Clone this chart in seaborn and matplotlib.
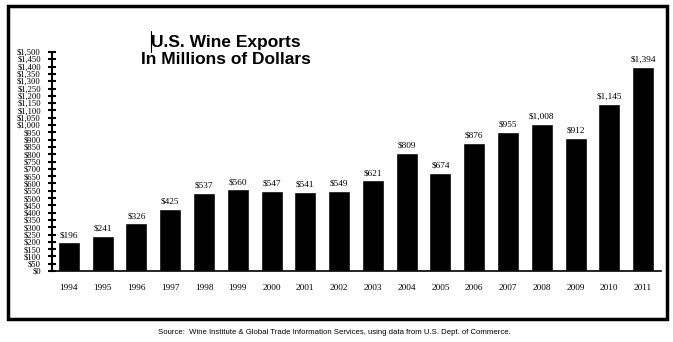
import matplotlib
matplotlib.use("Agg")
import matplotlib.pyplot as plt
import seaborn as sns
import pandas as pd
from matplotlib.patches import Rectangle
from matplotlib.lines import Line2D

years = ["1994", "1995", "1996", "1997", "1998", "1999", "2000", "2001", "2002",
         "2003", "2004", "2005", "2006", "2007", "2008", "2009", "2010", "2011"]
exports = [196, 241, 326, 425, 537, 560, 547, 541, 549,
           621, 809, 674, 876, 955, 1008, 912, 1145, 1394]
y_ticks = list(range(0, 1501, 50))

df = pd.DataFrame({"year": years, "exports": exports})

sns.set_theme(style="white")
plt.rcParams["font.family"] = ["Liberation Serif", "DejaVu Serif"]
plt.rcParams["text.color"] = "black"

fig = plt.figure(figsize=(6.73, 3.42), dpi=100)
ax = fig.add_axes([52 / 673, 71 / 342, (661 - 52) / 673, (271 - 52) / 342])

sns.barplot(data=df, x="year", y="exports", color="black", width=0.65,
            saturation=1, ax=ax)

for i, v in enumerate(exports):
    ax.text(i, v + 22, f"${v:,}", ha="center", va="bottom",
            fontsize=6.7, color="black")

ax.set_xlim(-0.5, 17.53)
ax.set_ylim(0, 1500)
ax.set_yticks(y_ticks)
ax.set_yticklabels([f"${t:,}" for t in y_ticks], fontsize=6.2)
ax.tick_params(axis="y", direction="inout", length=6, width=1.5, pad=5,
               left=True, colors="black")
ax.tick_params(axis="x", length=0, pad=9, labelsize=6.7, colors="black")
ax.set_xlabel("")
ax.set_ylabel("")
for side in ["top", "right"]:
    ax.spines[side].set_visible(False)
ax.spines["left"].set_color("black")
ax.spines["left"].set_linewidth(1.5)
ax.spines["bottom"].set_color("black")
ax.spines["bottom"].set_linewidth(1.2)

# Title block
fig.text(226 / 673, 1 - 42 / 342, "U.S. Wine Exports", ha="center", va="center",
         fontsize=12.5, fontweight="bold", family="Liberation Sans", color="black")
fig.text(226 / 673, 1 - 60 / 342, "In Millions of Dollars", ha="center", va="center",
         fontsize=12.5, fontweight="bold", family="Liberation Sans", color="black")
fig.add_artist(Line2D([150.5 / 673, 150.5 / 673], [1 - 31 / 342, 1 - 52 / 342],
                      color="black", lw=0.8, transform=fig.transFigure))

# Source note
fig.text(334 / 673, 1 - 333 / 342,
         "Source:  Wine Institute & Global Trade Information Services, using data from U.S. Dept. of Commerce.",
         ha="center", va="center", fontsize=5.6, family="Liberation Sans", color="black")

# Frame around the chart
fig.add_artist(Rectangle((7.5 / 673, 1 - 319 / 342), (667 - 7.5) / 673, (319 - 5.5) / 342,
                         fill=False, edgecolor="black", lw=2.5,
                         transform=fig.transFigure))

fig.savefig("out.png", dpi=100, facecolor="white")
